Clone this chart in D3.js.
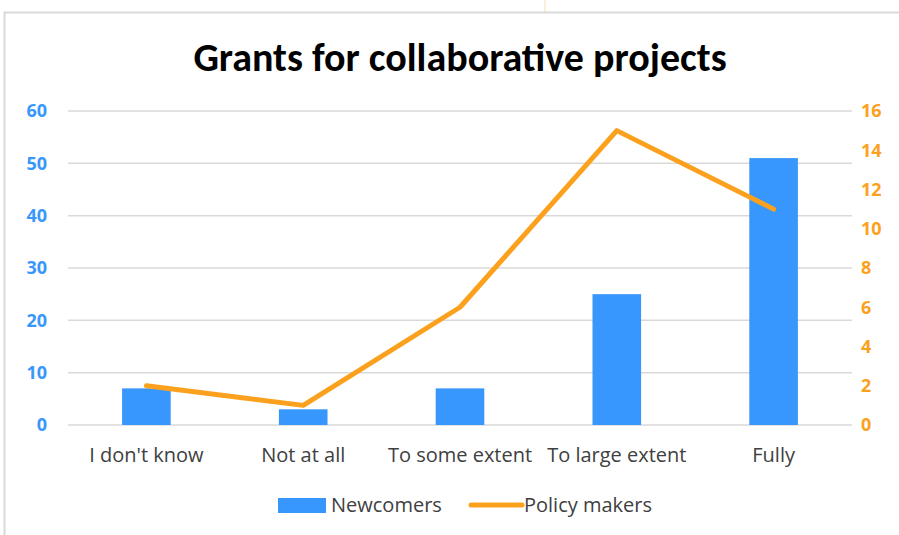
<!DOCTYPE html>
<html>
<head>
<meta charset="utf-8">
<script src="https://cdn.jsdelivr.net/npm/d3@7/dist/d3.min.js"></script>
<style>
  html, body { margin: 0; padding: 0; background: #fff; }
  svg { display: block; }
</style>
</head>
<body>
<svg id="chart" width="899" height="535"></svg>
<script>
// Survey answers and counts per group
const categories = ["I don't know", "Not at all", "To some extent", "To large extent", "Fully"];
const newcomers = [7, 3, 7, 25, 51];
const policyMakers = [2, 1, 6, 15, 11];
const leftTicks = [0, 10, 20, 30, 40, 50, 60];
const rightTicks = [0, 2, 4, 6, 8, 10, 12, 14, 16];

const blue = "#3797fd";
const orange = "#fca11d";
const titleFont = "Carlito, Lato, sans-serif";
const font = "'Open Sans', 'Noto Sans', sans-serif";

const svg = d3.select("#chart");
const W = 899, H = 535;
const plot = { left: 68, right: 852, top: 111, bottom: 425 };

// frame of the chart
svg.append("line").attr("x1", 545).attr("x2", 545).attr("y1", 0).attr("y2", 12)
  .attr("stroke", "#fde9cf").attr("stroke-width", 1.5);
svg.append("rect").attr("x", 4.5).attr("y", 12.5).attr("width", W + 10).attr("height", H + 10)
  .attr("fill", "#fff").attr("stroke", "#d9d9d9").attr("stroke-width", 2);

const x = d3.scaleBand().domain(categories).range([plot.left, plot.right]).paddingInner(0.69).paddingOuter(0.345);
const xc = d3.scaleBand().domain(categories).range([plot.left, plot.right]);
const yL = d3.scaleLinear().domain([0, 60]).range([plot.bottom, plot.top]);
const yR = d3.scaleLinear().domain([0, 16]).range([plot.bottom, plot.top]);

// title
svg.append("text").attr("x", 460).attr("y", 71).attr("text-anchor", "middle")
  .attr("font-family", titleFont).attr("font-weight", "bold").attr("font-size", 40)
  .attr("fill", "#000").text("Grants for collaborative projects");

// gridlines
svg.append("g").selectAll("line").data(leftTicks).join("line")
  .attr("x1", plot.left).attr("x2", plot.right)
  .attr("y1", d => yL(d)).attr("y2", d => yL(d))
  .attr("stroke", "#d9d9d9").attr("stroke-width", 1.5);

// left axis
const gL = svg.append("g").attr("transform", `translate(${plot.left},0)`)
  .call(d3.axisLeft(yL).tickValues(leftTicks).tickSize(0).tickPadding(21));
gL.select(".domain").remove();
gL.selectAll("text").attr("font-family", font).attr("font-weight", "bold")
  .attr("font-size", 18).attr("fill", blue);

// right axis
const gR = svg.append("g").attr("transform", `translate(${plot.right},0)`)
  .call(d3.axisRight(yR).tickValues(rightTicks).tickSize(0).tickPadding(9));
gR.select(".domain").remove();
gR.selectAll("text").attr("font-family", font).attr("font-weight", "bold")
  .attr("font-size", 18).attr("fill", orange);

// category axis
const gX = svg.append("g").attr("transform", `translate(0,${plot.bottom})`)
  .call(d3.axisBottom(xc).tickSize(0).tickPadding(23));
gX.select(".domain").remove();
gX.selectAll("text").attr("font-family", font).attr("font-size", 20).attr("fill", "#404040");

// bars
svg.append("g").selectAll("rect").data(newcomers).join("rect")
  .attr("x", (d, i) => x(categories[i]))
  .attr("y", d => yL(d))
  .attr("width", x.bandwidth())
  .attr("height", d => yL(0) - yL(d))
  .attr("fill", blue);

// line
const line = d3.line()
  .x((d, i) => xc(categories[i]) + xc.bandwidth() / 2)
  .y(d => yR(d));
svg.append("path").datum(policyMakers).attr("d", line)
  .attr("fill", "none").attr("stroke", orange).attr("stroke-width", 5)
  .attr("stroke-linecap", "round").attr("stroke-linejoin", "round");

// legend
const leg = svg.append("g");
leg.append("rect").attr("x", 278).attr("y", 498).attr("width", 48).attr("height", 15).attr("fill", blue);
leg.append("text").attr("x", 331).attr("y", 512).attr("font-family", font).attr("font-size", 20)
  .attr("fill", "#404040").text("Newcomers");
leg.append("line").attr("x1", 471).attr("x2", 522).attr("y1", 505).attr("y2", 505)
  .attr("stroke", orange).attr("stroke-width", 5).attr("stroke-linecap", "round");
leg.append("text").attr("x", 524).attr("y", 512).attr("font-family", font).attr("font-size", 20)
  .attr("fill", "#404040").text("Policy makers");
</script>
</body>
</html>
